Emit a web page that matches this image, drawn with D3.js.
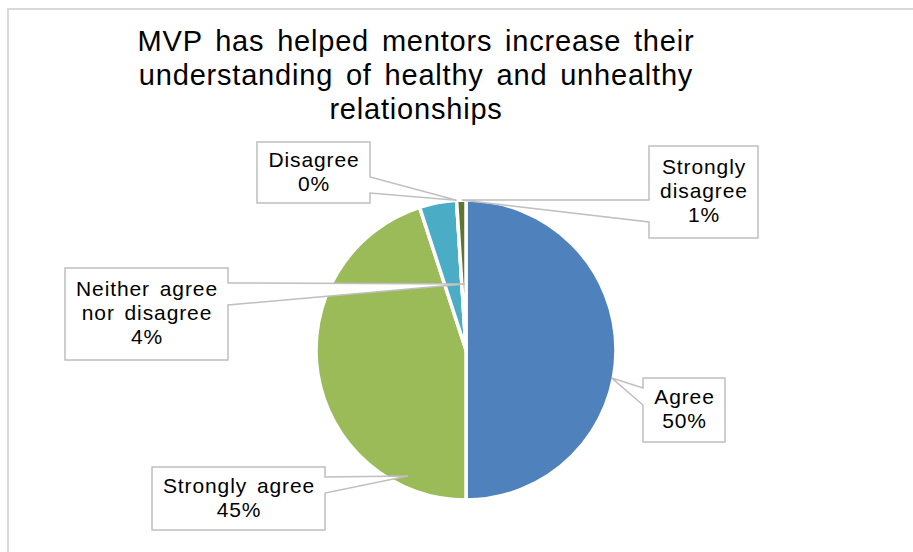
<!DOCTYPE html>
<html>
<head>
<meta charset="utf-8">
<script src="https://cdn.jsdelivr.net/npm/d3@7"></script>
<style>
  html, body { margin: 0; padding: 0; background: #fff; }
  svg { display: block; font-family: "Liberation Sans", Arial, sans-serif; }
</style>
</head>
<body>
<svg id="chart" width="913" height="552"></svg>
<script>
// Survey response categories, in pie order (clockwise from 12 o'clock)
const categories = ["Agree", "Strongly agree", "Neither agree nor disagree", "Disagree", "Strongly disagree"];
// Share of responses, percent
const values = [50, 45, 4, 0, 1];
// Label text lines shown in each callout (percentage appended below)
const labelLines = [["Agree"], ["Strongly agree"], ["Neither agree", "nor disagree"], ["Disagree"], ["Strongly", "disagree"]];
const sliceColors = ["#4f81bd", "#9bbb59", "#4bacc6", "#8064a2", "#5f7530"];
const titleLines = ["MVP has helped mentors increase their", "understanding of healthy and unhealthy", "relationships"];

// Callout box geometry and where each wedge points on the pie (angle in degrees clockwise from top, radius fraction)
const callouts = [
  { box: [643, 378, 82, 64],  side: "left",  y1: 388, y2: 405, tipAngle: 100.9, tipR: 0.99 },
  { box: [152, 467, 173, 63], side: "right", y1: 477, y2: 493, tipAngle: 204.7, tipR: 0.925 },
  { box: [65, 268, 163, 92],  side: "right", y1: 283, y2: 305, tipAngle: 359.1, tipR: 0.44 },
  { box: [257, 142, 113, 61], side: "right", y1: 177, y2: 193, tipAngle: 356.4, tipR: 1.0 },
  { box: [649, 146, 109, 92], side: "left",  y1: 200, y2: 222, tipAngle: 358.4, tipR: 1.0 }
];

const svg = d3.select("#chart");
const cx = 466, cy = 350, R = 150;
const lineH = 24;

// chart frame
svg.append("rect")
  .attr("x", 8).attr("y", 9).attr("width", 920).attr("height", 560)
  .attr("fill", "#fff").attr("stroke", "#d9d9d9").attr("stroke-width", 2);

// title
const title = svg.append("g");
titleLines.forEach((t, i) => {
  title.append("text")
    .attr("x", 416)
    .attr("y", 51 + i * 34)
    .attr("text-anchor", "middle")
    .attr("font-size", 29)
    .attr("letter-spacing", 0.8)
    .attr("word-spacing", 4)
    .attr("fill", "#000")
    .text(t);
});

// pie
const data = categories.map((c, i) => ({ category: c, value: values[i], i }));
const pie = d3.pie().sort(null).value(d => d.value).startAngle(0).endAngle(2 * Math.PI);
const arc = d3.arc().innerRadius(0).outerRadius(R);
const arcs = pie(data);

const g = svg.append("g").attr("transform", `translate(${cx},${cy})`);
g.selectAll("path")
  .data(arcs)
  .join("path")
  .attr("d", arc)
  .attr("fill", d => sliceColors[d.data.i])
  .attr("stroke", "#fff")
  .attr("stroke-width", 3.5)
  .attr("stroke-linejoin", "round");

// callouts
const deg = Math.PI / 180;
const labels = svg.append("g");
callouts.forEach((c, i) => {
  const [x, y, w, h] = c.box;
  const a = c.tipAngle * deg;
  const tx = cx + c.tipR * R * Math.sin(a);
  const ty = cy - c.tipR * R * Math.cos(a);
  let d;
  if (c.side === "right") {
    d = `M${x},${y}H${x + w}V${c.y1}L${tx},${ty}L${x + w},${c.y2}V${y + h}H${x}Z`;
  } else {
    d = `M${x},${y}H${x + w}V${y + h}H${x}V${c.y2}L${tx},${ty}L${x},${c.y1}Z`;
  }
  labels.append("path")
    .attr("d", d)
    .attr("fill", "#fff")
    .attr("stroke", "#bfbfbf")
    .attr("stroke-width", 1.5)
    .attr("stroke-linejoin", "miter");

  const lines = labelLines[i].concat([Math.round(values[i]) + "%"]);
  const midX = x + w / 2 + 0.5;
  const firstBase = y + h / 2 - (lines.length * lineH) / 2 + 18;
  lines.forEach((t, k) => {
    labels.append("text")
      .attr("x", midX)
      .attr("y", firstBase + k * lineH)
      .attr("text-anchor", "middle")
      .attr("font-size", 21)
      .attr("letter-spacing", 0.9)
      .attr("word-spacing", 3)
      .attr("fill", "#000")
      .text(t);
  });
});
</script>
</body>
</html>
